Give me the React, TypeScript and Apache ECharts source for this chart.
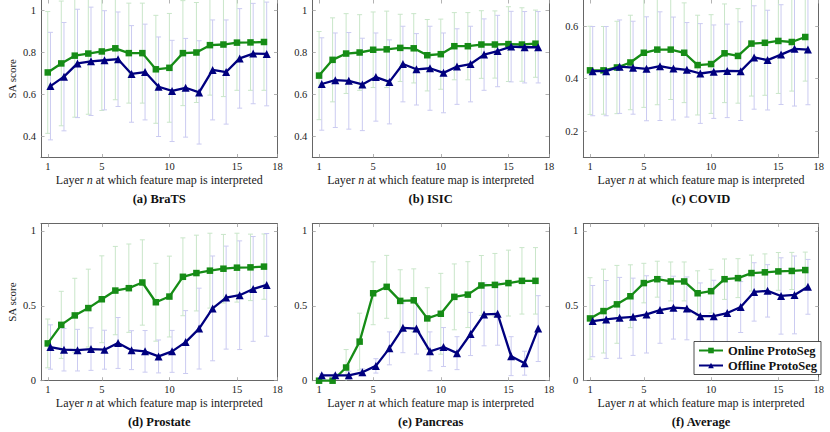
import React, { useEffect, useRef } from "react";
import * as echarts from "echarts";

// ---------- data ----------
const layers = [1, 2, 3, 4, 5, 6, 7, 8, 9, 10, 11, 12, 13, 14, 15, 16, 17];
const xTicks = [1, 5, 10, 15, 18];
const yTicksHigh = [0.4, 0.6, 0.8, 1];
const yTicksCovid = [0.2, 0.4, 0.6];
const yTicksFull = [0, 0.5, 1];

const bratsOnline = [0.705, 0.748, 0.785, 0.795, 0.805, 0.82, 0.797, 0.797, 0.72, 0.727, 0.797, 0.8, 0.835, 0.838, 0.847, 0.848, 0.85];
const bratsOnlineStd = [0.29, 0.297, 0.293, 0.289, 0.281, 0.245, 0.238, 0.238, 0.257, 0.259, 0.25, 0.238, 0.238, 0.248, 0.227, 0.228, 0.23];
const bratsOffline = [0.64, 0.685, 0.748, 0.758, 0.763, 0.768, 0.698, 0.707, 0.637, 0.617, 0.632, 0.61, 0.717, 0.707, 0.772, 0.795, 0.793];
const bratsOfflineStd = [0.256, 0.258, 0.258, 0.258, 0.236, 0.225, 0.23, 0.228, 0.237, 0.241, 0.235, 0.246, 0.238, 0.248, 0.237, 0.239, 0.247];

const isicOnline = [0.69, 0.765, 0.795, 0.8, 0.813, 0.815, 0.822, 0.82, 0.787, 0.792, 0.83, 0.83, 0.838, 0.838, 0.84, 0.838, 0.842];
const isicOnlineStd = [0.21, 0.2, 0.19, 0.18, 0.18, 0.182, 0.16, 0.165, 0.17, 0.167, 0.16, 0.16, 0.161, 0.16, 0.178, 0.175, 0.16];
const isicOffline = [0.65, 0.668, 0.665, 0.648, 0.683, 0.66, 0.745, 0.72, 0.725, 0.703, 0.733, 0.745, 0.79, 0.807, 0.828, 0.825, 0.825];
const isicOfflineStd = [0.22, 0.225, 0.23, 0.22, 0.21, 0.2, 0.18, 0.17, 0.2, 0.19, 0.18, 0.18, 0.17, 0.17, 0.168, 0.17, 0.17];

const covidOnline = [0.432, 0.432, 0.443, 0.462, 0.499, 0.511, 0.511, 0.499, 0.452, 0.456, 0.497, 0.487, 0.534, 0.537, 0.544, 0.54, 0.559];
const covidOnlineStd = [0.168, 0.167, 0.176, 0.18, 0.208, 0.21, 0.19, 0.19, 0.19, 0.188, 0.188, 0.18, 0.2, 0.2, 0.2, 0.187, 0.168];
const covidOffline = [0.429, 0.429, 0.446, 0.442, 0.438, 0.448, 0.439, 0.434, 0.42, 0.427, 0.43, 0.429, 0.481, 0.471, 0.492, 0.514, 0.511];
const covidOfflineStd = [0.17, 0.17, 0.178, 0.177, 0.198, 0.207, 0.196, 0.18, 0.19, 0.178, 0.178, 0.188, 0.197, 0.19, 0.19, 0.218, 0.21];

const prostateOnline = [0.249, 0.373, 0.436, 0.485, 0.544, 0.602, 0.618, 0.656, 0.524, 0.562, 0.694, 0.719, 0.735, 0.748, 0.755, 0.757, 0.762];
const prostateOnlineStd = [0.163, 0.224, 0.248, 0.26, 0.29, 0.295, 0.295, 0.285, 0.26, 0.27, 0.26, 0.253, 0.25, 0.229, 0.23, 0.222, 0.218];
const prostateOffline = [0.225, 0.207, 0.204, 0.211, 0.207, 0.252, 0.204, 0.196, 0.162, 0.196, 0.258, 0.348, 0.483, 0.555, 0.571, 0.613, 0.64];
const prostateOfflineStd = [0.148, 0.142, 0.139, 0.142, 0.13, 0.17, 0.13, 0.139, 0.11, 0.14, 0.21, 0.27, 0.35, 0.344, 0.363, 0.35, 0.343];

const pancreasOnline = [0, 0, 0.088, 0.261, 0.584, 0.627, 0.533, 0.537, 0.416, 0.447, 0.56, 0.575, 0.636, 0.64, 0.652, 0.667, 0.667];
const pancreasOnlineStd = [0, 0, 0.12, 0.19, 0.21, 0.21, 0.208, 0.21, 0.205, 0.27, 0.22, 0.22, 0.2, 0.21, 0.22, 0.222, 0.222];
const pancreasOffline = [0.036, 0.036, 0.036, 0.056, 0.099, 0.216, 0.353, 0.348, 0.196, 0.225, 0.184, 0.312, 0.443, 0.447, 0.164, 0.117, 0.348];
const pancreasOfflineStd = [0.01, 0.01, 0.027, 0.023, 0.048, 0.11, 0.166, 0.17, 0.13, 0.13, 0.11, 0.144, 0.21, 0.21, 0.13, 0.08, 0.22];

const averageOnline = [0.416, 0.465, 0.51, 0.564, 0.652, 0.678, 0.663, 0.663, 0.584, 0.598, 0.678, 0.685, 0.719, 0.724, 0.73, 0.733, 0.739];
const averageOnlineStd = [0.272, 0.28, 0.26, 0.21, 0.132, 0.12, 0.13, 0.13, 0.15, 0.146, 0.135, 0.13, 0.12, 0.123, 0.126, 0.124, 0.12];
const averageOffline = [0.398, 0.409, 0.42, 0.427, 0.443, 0.472, 0.488, 0.483, 0.431, 0.431, 0.452, 0.492, 0.593, 0.6, 0.566, 0.573, 0.627];
const averageOfflineStd = [0.238, 0.26, 0.27, 0.258, 0.258, 0.222, 0.21, 0.21, 0.222, 0.24, 0.23, 0.17, 0.195, 0.175, 0.255, 0.26, 0.183];

const captions = ["(a) BraTS", "(b) ISIC", "(c) COVID", "(d) Prostate", "(e) Pancreas", "(f) Average"];
const seriesNames = ["Online ProtoSeg", "Offline ProtoSeg"];

// ---------- styling / layout ----------
const GREEN = "#168c16";
const NAVY = "#00007f";
const ERR_GREEN = "#c9e6c9";
const ERR_BLUE = "#cbcbf1";
const AXIS_COLOR = "#666";
const TICK_COLOR = "#a0a0a0";
const FONT = "Liberation Serif";
const OFFLINE_SHIFT = 0.2;

const COL_LEFT = [41, 312.3, 583.3];
const COL_WIDTH = [236.5, 236.7, 235.4];
const ROW_TOP = [0, 223.5];
const ROW_HEIGHT = [157.5, 157.2];

const panels = [
  { on: bratsOnline, onStd: bratsOnlineStd, off: bratsOffline, offStd: bratsOfflineStd, yMin: 0.3, yMax: 1.05, yTicks: yTicksHigh },
  { on: isicOnline, onStd: isicOnlineStd, off: isicOffline, offStd: isicOfflineStd, yMin: 0.3, yMax: 1.05, yTicks: yTicksHigh },
  { on: covidOnline, onStd: covidOnlineStd, off: covidOffline, offStd: covidOfflineStd, yMin: 0.1, yMax: 0.7, yTicks: yTicksCovid },
  { on: prostateOnline, onStd: prostateOnlineStd, off: prostateOffline, offStd: prostateOfflineStd, yMin: 0, yMax: 1.05, yTicks: yTicksFull },
  { on: pancreasOnline, onStd: pancreasOnlineStd, off: pancreasOffline, offStd: pancreasOfflineStd, yMin: 0, yMax: 1.05, yTicks: yTicksFull },
  { on: averageOnline, onStd: averageOnlineStd, off: averageOffline, offStd: averageOfflineStd, yMin: 0, yMax: 1.05, yTicks: yTicksFull },
];

function errorRender(color: string) {
  return (params: any, api: any) => {
    const x = api.value(0);
    const m = api.value(1);
    const s = api.value(2);
    if (!(s > 0)) return null;
    const cs = params.coordSys;
    const top = api.coord([x, m + s]);
    const bot = api.coord([x, m - s]);
    const yTop = Math.max(top[1], cs.y);
    const yBot = Math.min(bot[1], cs.y + cs.height);
    const cx = top[0];
    const hw = 2.5;
    const st = { stroke: color, lineWidth: 1 };
    const children: any[] = [
      { type: "line", shape: { x1: cx, y1: yTop, x2: cx, y2: yBot }, style: st },
    ];
    if (top[1] >= cs.y) children.push({ type: "line", shape: { x1: cx - hw, y1: top[1], x2: cx + hw, y2: top[1] }, style: st });
    if (bot[1] <= cs.y + cs.height) children.push({ type: "line", shape: { x1: cx - hw, y1: bot[1], x2: cx + hw, y2: bot[1] }, style: st });
    return { type: "group", children };
  };
}

function buildOption() {
  const grid: any[] = [];
  const xAxis: any[] = [];
  const yAxis: any[] = [];
  const series: any[] = [];
  const graphic: any[] = [];

  panels.forEach((p, i) => {
    const col = i % 3;
    const row = Math.floor(i / 3);
    const left = COL_LEFT[col];
    const width = COL_WIDTH[col];
    const top = ROW_TOP[row];
    const height = ROW_HEIGHT[row];
    grid.push({ left, top, width, height, containLabel: false });

    const tickStyle = { show: true, inside: true, length: 3.5, lineStyle: { color: TICK_COLOR, width: 0.8 } };
    const lineStyle = { color: AXIS_COLOR, width: 1 };

    xAxis.push({
      type: "value",
      gridIndex: i,
      min: 0.5,
      max: 18,
      position: "bottom",
      axisLine: { show: true, onZero: false, lineStyle },
      axisTick: { ...tickStyle, customValues: xTicks },
      axisLabel: { customValues: xTicks, fontFamily: FONT, fontSize: 10.5, color: "#222", margin: 3.5 },
      splitLine: { show: false },
      name: "Layer {i|n} at which feature map is interpreted",
      nameLocation: "middle",
      nameGap: 16.5,
      nameTextStyle: {
        fontFamily: FONT,
        fontSize: 12,
        color: "#222",
        rich: { i: { fontFamily: FONT, fontSize: 12, fontStyle: "italic", color: "#222" } },
      },
    });
    xAxis.push({
      type: "value",
      gridIndex: i,
      min: 0.5,
      max: 18,
      position: "top",
      axisLine: { show: row === 1, onZero: false, lineStyle },
      axisTick: { ...tickStyle, customValues: xTicks },
      axisLabel: { show: false },
      splitLine: { show: false },
    });
    yAxis.push({
      type: "value",
      gridIndex: i,
      min: p.yMin,
      max: p.yMax,
      position: "left",
      axisLine: { show: true, onZero: false, lineStyle },
      axisTick: { ...tickStyle, customValues: p.yTicks },
      axisLabel: { customValues: p.yTicks, fontFamily: FONT, fontSize: 10.5, color: "#222", margin: 5 },
      splitLine: { show: false },
      name: col === 0 ? "SA score" : "",
      nameLocation: "middle",
      nameGap: 24,
      nameTextStyle: { fontFamily: FONT, fontSize: 11, color: "#222" },
    });
    yAxis.push({
      type: "value",
      gridIndex: i,
      min: p.yMin,
      max: p.yMax,
      position: "right",
      axisLine: { show: true, onZero: false, lineStyle },
      axisTick: { ...tickStyle, customValues: p.yTicks },
      axisLabel: { show: false },
      splitLine: { show: false },
    });

    const xi = 2 * i;
    series.push({
      type: "custom",
      xAxisIndex: xi,
      yAxisIndex: xi,
      renderItem: errorRender(ERR_GREEN),
      data: layers.map((l, k) => [l, p.on[k], p.onStd[k]]),
      encode: { x: 0, y: 1 },
      silent: true,
      z: 1,
    });
    series.push({
      type: "custom",
      xAxisIndex: xi,
      yAxisIndex: xi,
      renderItem: errorRender(ERR_BLUE),
      data: layers.map((l, k) => [l + OFFLINE_SHIFT, p.off[k], p.offStd[k]]),
      encode: { x: 0, y: 1 },
      silent: true,
      z: 1,
    });
    series.push({
      type: "line",
      name: seriesNames[0],
      xAxisIndex: xi,
      yAxisIndex: xi,
      data: layers.map((l, k) => [l, p.on[k]]),
      symbol: "rect",
      symbolSize: 6.5,
      showAllSymbol: true,
      clip: false,
      color: GREEN,
      lineStyle: { color: GREEN, width: 2.3 },
      itemStyle: { color: GREEN },
      z: 3,
    });
    series.push({
      type: "line",
      name: seriesNames[1],
      xAxisIndex: xi,
      yAxisIndex: xi,
      data: layers.map((l, k) => [l + OFFLINE_SHIFT, p.off[k]]),
      symbol: "triangle",
      symbolSize: 8,
      showAllSymbol: true,
      clip: false,
      color: NAVY,
      lineStyle: { color: NAVY, width: 2.3 },
      itemStyle: { color: NAVY },
      z: 4,
    });

    const cy = row === 0 ? 198.7 : 422.3;
    graphic.push({
      type: "text",
      x: left + width / 2,
      y: cy,
      z: 10,
      style: {
        text: captions[i],
        fontFamily: FONT,
        fontSize: 12.5,
        fontWeight: "bold",
        fill: "#111",
        align: "center",
        verticalAlign: "middle",
        textAlign: "center",
        textVerticalAlign: "middle",
      },
    });
  });

  return {
    animation: false,
    backgroundColor: "#fff",
    grid,
    xAxis,
    yAxis,
    series,
    graphic,
    legend: {
      data: seriesNames,
      orient: "vertical",
      left: 694,
      top: 341.5,
      itemWidth: 24,
      itemHeight: 7,
      itemGap: 1,
      padding: [2, 4, 2, 4],
      borderColor: "#222",
      borderWidth: 0.8,
      backgroundColor: "#fff",
      selectedMode: false,
      textStyle: { fontFamily: FONT, fontSize: 12.5, lineHeight: 14, fontWeight: "bold", color: "#111" },
      z: 10,
    },
  };
}

export default function App() {
  const ref = useRef<HTMLDivElement>(null);
  useEffect(() => {
    if (!ref.current) return;
    const chart = echarts.init(ref.current, null, { renderer: "svg" });
    chart.setOption(buildOption() as any);
    return () => chart.dispose();
  }, []);
  return (
    <div
      ref={ref}
      style={{ position: "absolute", left: 0, top: 0, width: 830, height: 432, background: "#fff" }}
    />
  );
}
